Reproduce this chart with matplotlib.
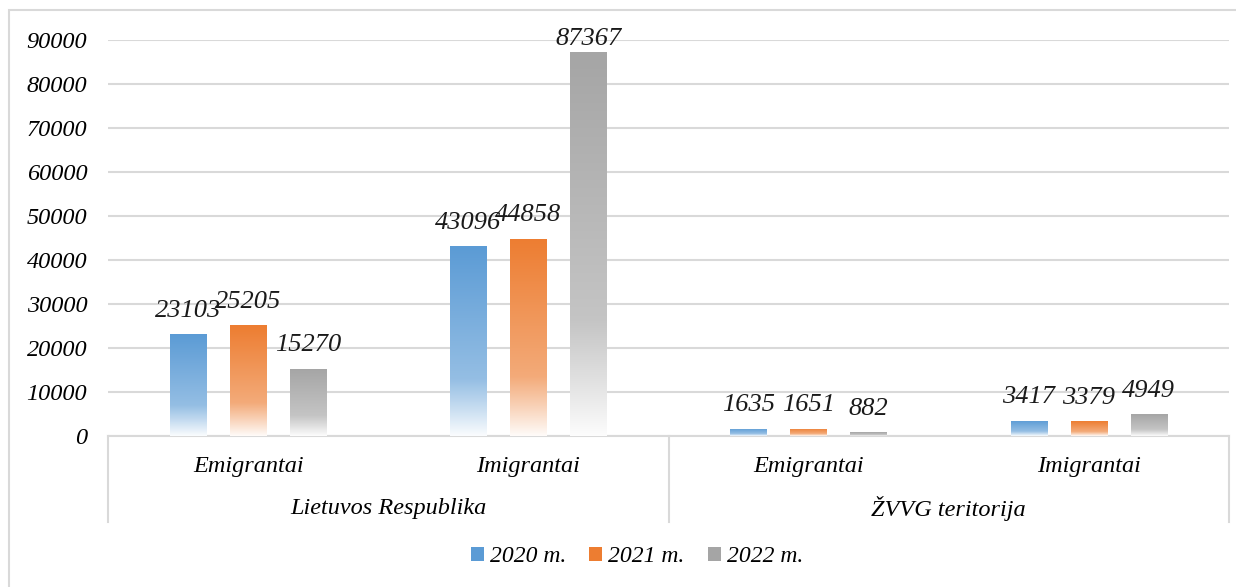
import numpy as np
import matplotlib.pyplot as plt
from matplotlib.colors import to_rgb
from matplotlib.patches import Rectangle, Patch

plt.rcParams['font.family'] = ['Liberation Serif', 'DejaVu Serif']
plt.rcParams['font.style'] = 'italic'

# data
categories = ['Emigrantai', 'Imigrantai', 'Emigrantai', 'Imigrantai']
groups = ['Lietuvos Respublika', 'ŽVVG teritorija']
series = ['2020 m.', '2021 m.', '2022 m.']
v2020 = [23103, 43096, 1635, 3417]
v2021 = [25205, 44858, 1651, 3379]
v2022 = [15270, 87367, 882, 4949]
values = [v2020, v2021, v2022]
colors = ['#5b9bd5', '#ed7d31', '#a5a5a5']
ymax = 90000

fig = plt.figure(figsize=(12.36, 5.87), dpi=100)
ax = fig.add_axes([108 / 1236, 1 - 436 / 587, (1229 - 108) / 1236, 396 / 587])

# outer frame of the chart
fig.patches.append(Rectangle((9 / 1236, -0.05), 1.1, 1 - 10 / 587 + 0.05,
                             transform=fig.transFigure, fill=False,
                             edgecolor='#d9d9d9', linewidth=1.5))

x = np.arange(len(categories))
width = 0.13
offsets = [-0.214, 0, 0.214]


def gradient(color, n=256):
    # white at bottom, full colour at top
    t = np.linspace(0, 1, n)
    w = np.interp(t, [0, 0.15, 0.3, 1], [0.97, 0.65, 0.35, 0.0])
    base = np.array(to_rgb(color))
    rgb = base[None, :] * (1 - w[:, None]) + w[:, None]
    return rgb[:, None, :]


for vals, off, col in zip(values, offsets, colors):
    bars = ax.bar(x + off, vals, width, facecolor='none', edgecolor='none', zorder=3)
    for b, v in zip(bars, vals):
        bx = b.get_x()
        img = ax.imshow(gradient(col), extent=[bx, bx + b.get_width(), 0, b.get_height()],
                        origin='lower', aspect='auto', zorder=3, interpolation='bilinear')
        img.set_clip_path(b)
        # labels near the top of the plot area get pushed down like in Excel
        dy = 9 if v < 0.9 * ymax else 1
        ax.annotate(str(v), (bx + b.get_width() / 2, v), xytext=(0, dy),
                    textcoords='offset points', ha='center', va='bottom',
                    fontsize=19, color='#1a1a1a', zorder=4)

ax.set_xlim(-0.5, 3.5)
ax.set_ylim(0, ymax)
ax.set_yticks(np.arange(0, ymax + 1, 10000))
ax.tick_params(axis='y', length=0, pad=15, labelsize=17.5)
ax.tick_params(axis='x', length=0, labelbottom=False)
ax.grid(axis='y', color='#d9d9d9', linewidth=1.5, zorder=0)
for s in ['top', 'right', 'left']:
    ax.spines[s].set_visible(False)
ax.spines['bottom'].set_color('#d9d9d9')
ax.spines['bottom'].set_linewidth(1.5)

trans = ax.get_xaxis_transform()
for xi, cat in zip(x, categories):
    ax.text(xi, -0.076, cat, transform=trans, ha='center', va='center', fontsize=17.5)
for gi, g in enumerate(groups):
    ax.text(gi * 2 + 0.5, -0.182, g, transform=trans, ha='center', va='center', fontsize=17.5)
for xs in [-0.5, 1.5, 3.5]:
    ax.plot([xs, xs], [0, -0.217], transform=trans, color='#d9d9d9',
            linewidth=1.5, clip_on=False)

handles = [Patch(facecolor=c, edgecolor='none') for c in colors]
fig.legend(handles, series, loc='center', bbox_to_anchor=(637 / 1236, 1 - 557 / 587),
           ncol=3, frameon=False, fontsize=17, handlelength=0.55, handleheight=0.55,
           handletextpad=0.25, columnspacing=1.0)

fig.savefig('out.png', dpi=100)
